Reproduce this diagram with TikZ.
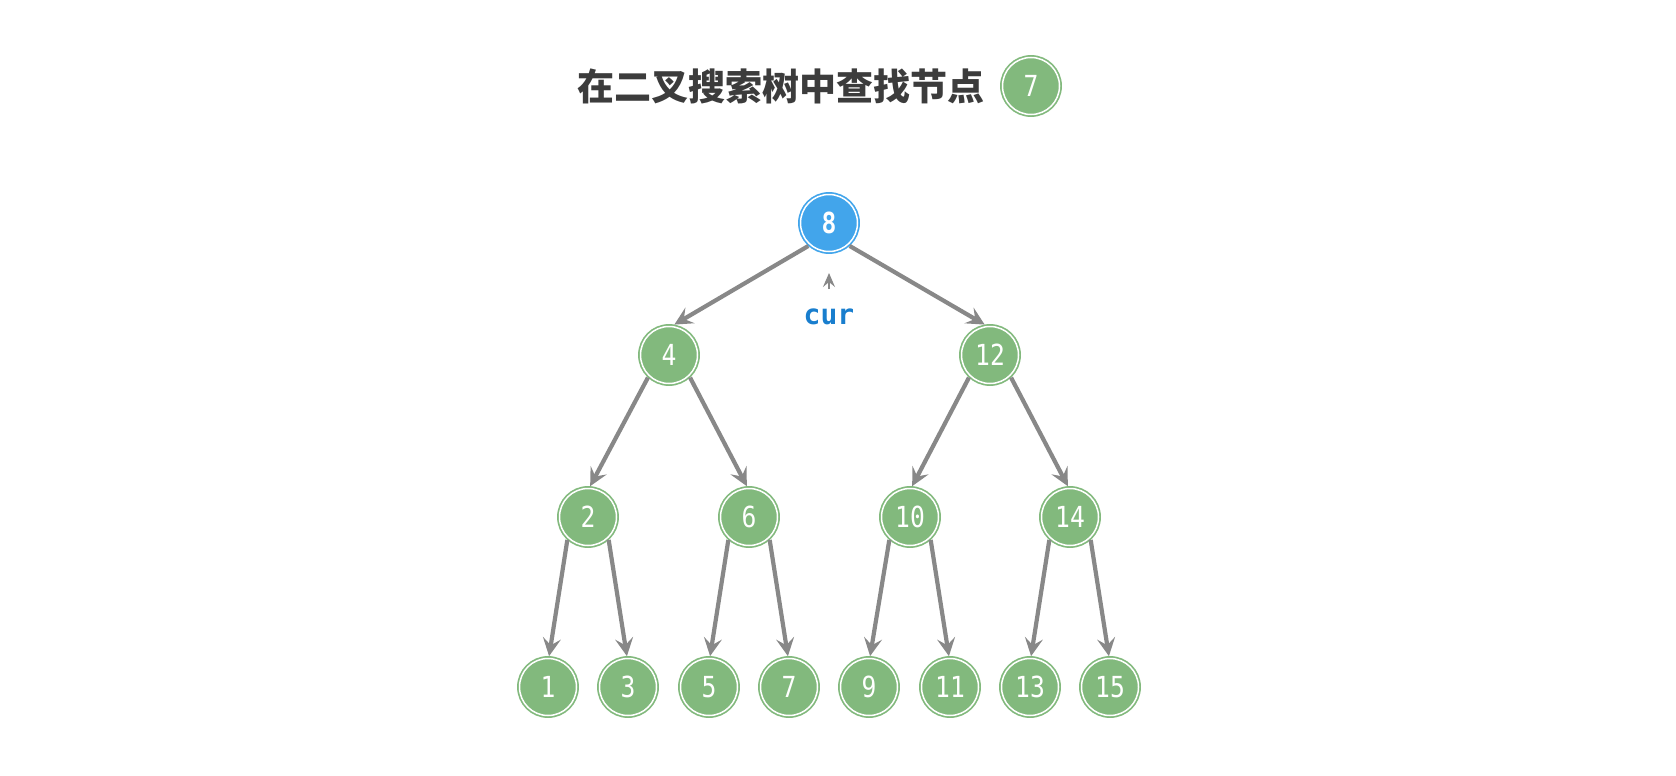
\documentclass[tikz,border=0pt]{standalone}
\usepackage{fontspec}
\usetikzlibrary{arrows.meta}
\newfontfamily\cjk{Noto Sans CJK SC}
\newfontfamily\mono{DejaVu Sans Mono}
\newfontfamily\digitfont[FakeStretch=0.85]{DejaVu Sans Mono}
\definecolor{nodegreen}{RGB}{130,185,125}
\definecolor{nodeblue}{RGB}{66,165,235}
\definecolor{edgegray}{RGB}{136,136,136}
\definecolor{curblue}{RGB}{25,126,206}
\definecolor{titlegray}{RGB}{60,60,60}

\begin{document}
\begin{tikzpicture}[x=1pt,y=-1pt,
  treenode/.style={circle, minimum size=57pt, inner sep=0pt, outer sep=2.4pt,
    fill=nodegreen, draw=nodegreen, line width=1.7pt, double=white,
    double distance=1.5pt, text=white, font=\digitfont\fontsize{29}{29}\selectfont},
  curnode/.style={treenode, fill=nodeblue, draw=nodeblue,
    font=\digitfont\bfseries\fontsize{29}{29}\selectfont},
  edge/.style={draw=edgegray, line width=4.2pt,
    -{Stealth[length=18pt,width=18pt,inset=7pt]}},
  caretarrow/.style={draw=edgegray, line width=1.5pt,
    -{Stealth[length=14pt,width=12pt,inset=5pt]}}]
\useasboundingbox (0,0) rectangle (1676,776);

% title
\node[font=\cjk\bfseries\fontsize{37}{37}\selectfont, text=titlegray] (title) at (781,86) {在二叉搜索树中查找节点};
\node[treenode] (target) at (1031,86) {7};

% tree
\node[curnode] (n8) at (829,223) {8};

\node[treenode] (n4) at (669,355) {4};
\node[treenode] (n12) at (990,355) {12};

\node[treenode] (n2) at (588,517) {2};
\node[treenode] (n6) at (749,517) {6};
\node[treenode] (n10) at (910,517) {10};
\node[treenode] (n14) at (1070,517) {14};

\node[treenode] (n1) at (548,687) {1};
\node[treenode] (n3) at (628,687) {3};
\node[treenode] (n5) at (709,687) {5};
\node[treenode] (n7) at (789,687) {7};
\node[treenode] (n9) at (869,687) {9};
\node[treenode] (n11) at (950,687) {11};
\node[treenode] (n13) at (1030,687) {13};
\node[treenode] (n15) at (1110,687) {15};

\draw[edge] (n8.-132) -- (n4.80);
\draw[edge] (n8.-48) -- (n12.100);
\draw[edge] (n4.-133) -- (n2.86);
\draw[edge] (n4.-47) -- (n6.94);
\draw[edge] (n12.-133) -- (n10.86);
\draw[edge] (n12.-47) -- (n14.94);
\draw[edge] (n2.-132) -- (n1.88);
\draw[edge] (n2.-48) -- (n3.92);
\draw[edge] (n6.-132) -- (n5.88);
\draw[edge] (n6.-48) -- (n7.92);
\draw[edge] (n10.-132) -- (n9.88);
\draw[edge] (n10.-48) -- (n11.92);
\draw[edge] (n14.-132) -- (n13.88);
\draw[edge] (n14.-48) -- (n15.92);

% pointer
\node[font=\mono\bfseries\fontsize{28}{28}\selectfont, text=curblue] (cur) at (829,317) {cur};
\coordinate (caretbase) at (829,289);
\coordinate (caret) at (829,273);
\draw[caretarrow] (caretbase) -- (caret);
\end{tikzpicture}
\end{document}
